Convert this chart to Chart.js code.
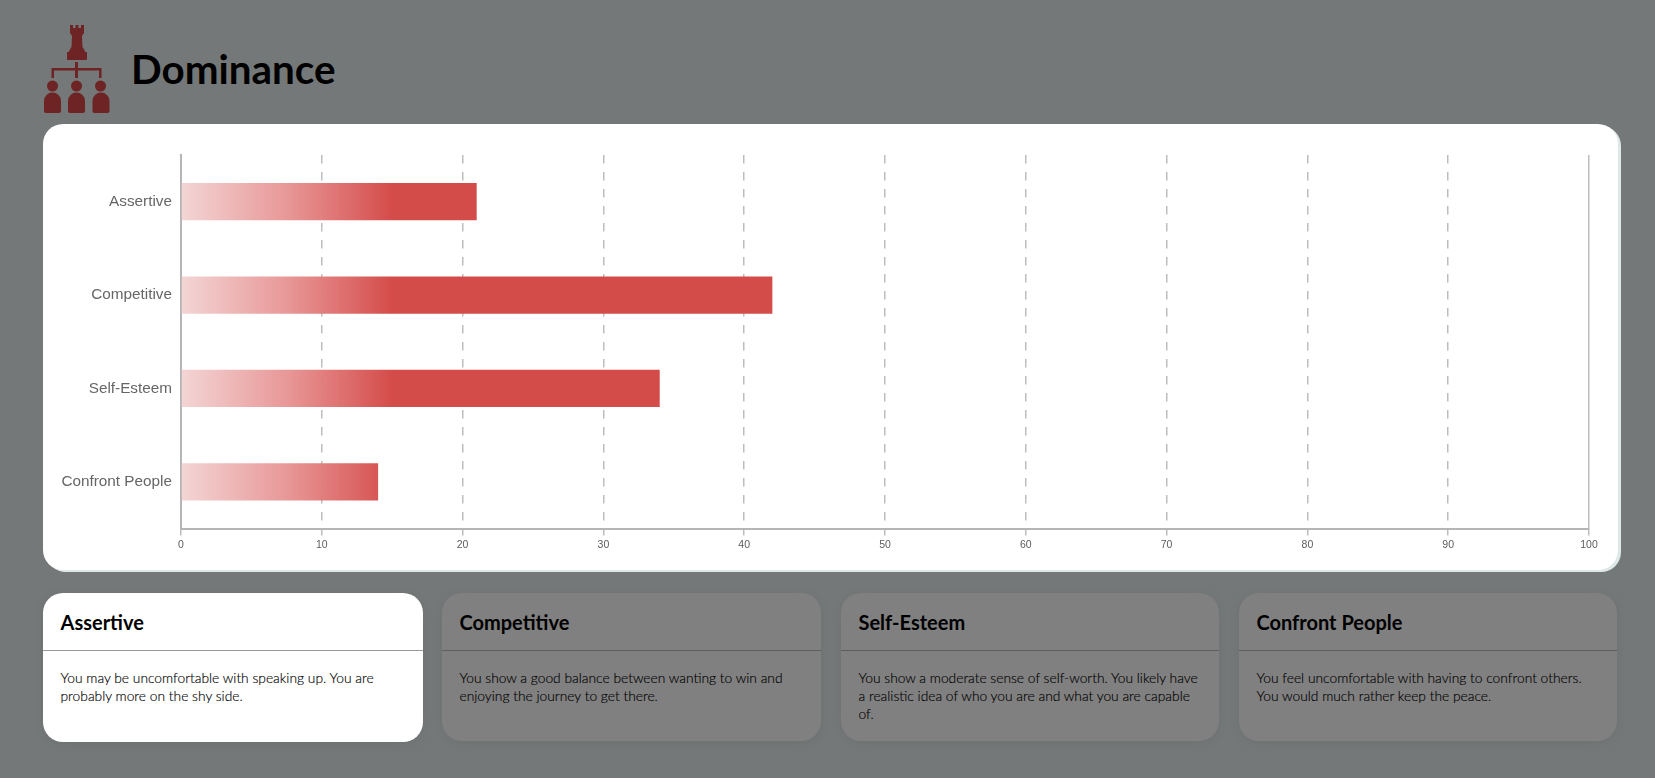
<!DOCTYPE html>
<html>
<head>
<meta charset="utf-8">
<title>Dominance</title>
<script src="https://cdn.jsdelivr.net/npm/chart.js@4"></script>
<style>
    html, body { margin: 0; padding: 0; }
    body { width: 1655px; height: 778px; background: #757878; overflow: hidden; position: relative; font-family: Lato, sans-serif; }
    #logo { position: absolute; left: 0; top: 0; }
    h1 { position: absolute; left: 131px; top: 44px; margin: 0; font-size: 40.4px; line-height: 50px; font-weight: 700; color: #000; }
    #chart-card { position: absolute; left: 43px; top: 124px; width: 1575px; height: 446px; background: #fff; border-radius: 20px; box-shadow: 3px 2px 0 0 #dfe8e8; }
    #chart-card canvas { position: absolute; left: 0; top: 0; }
    .card { position: absolute; top: 593px; height: 148px; border-radius: 20px; background: #808080; box-shadow: 0 2px 12px rgba(0,0,0,.06); }
    .card.active { background: #fff; height: 149px; }
    .card h3 { margin: 0; padding: 1px 17.5px 0; height: 56px; line-height: 57px; font-size: 20px; font-weight: 700; color: #000; border-bottom: 1px solid #5f5f5f; }
    .card.active h3 { border-bottom-color: #999; }
    .card p { margin: 0; padding: 18px 17.5px 0; font-size: 13.8px; line-height: 18px; font-weight: 300; color: #000; -webkit-text-stroke: 0.15px #000; }
</style>
</head>
<body>
<svg id="logo" width="130" height="120" fill="#6e2424">
    <path d="M70 25h3v3h2.500v-3h3v3h2.500v-3h3v8l-2 3 .5 11 2.500 4v1h2v7a1 1 0 0 1-1 1H68a1 1 0 0 1-1-1v-7h2v-1l2.500-4 .5-11-2-3z"/>
    <path d="M75 62h3v6h23.500v10h-2.500v-7.500h-21v7.500h-3v-7.500h-21v7.500h-2.500v-10h23.500z"/>
    <circle cx="52.500" cy="86" r="5.500"/><circle cx="76.500" cy="86" r="5.500"/><circle cx="100.500" cy="86" r="5.500"/>
    <path d="M44 111v-10a8.500 8.500 0 0 1 17 0v10a2 2 0 0 1-2 2H46a2 2 0 0 1-2-2z"/>
    <path d="M68 111v-10a8.500 8.500 0 0 1 17 0v10a2 2 0 0 1-2 2H70a2 2 0 0 1-2-2z"/>
    <path d="M92.500 111v-10a8.500 8.500 0 0 1 17 0v10a2 2 0 0 1-2 2h-13a2 2 0 0 1-2-2z"/>
</svg>
<h1>Dominance</h1>
<div id="chart-card"><canvas id="dominance-chart" width="1578" height="448"></canvas></div>
<div id="cards"></div>

<script>
let categories = ['Assertive', 'Competitive', 'Self-Esteem', 'Confront People'];
let scores = [21, 42, 34, 14];
let axisTicks = [0, 10, 20, 30, 40, 50, 60, 70, 80, 90, 100];
let descriptions = [
    'You may be uncomfortable with speaking up. You are probably more on the shy side.',
    'You show a good balance between wanting to win and enjoying the journey to get there.',
    'You show a moderate sense of self-worth. You likely have a realistic idea of who you are and what you are capable of.',
    'You feel uncomfortable with having to confront others. You would much rather keep the peace.'
];
let cardLefts = [43, 442, 841, 1239];
let cardWidths = [380, 379, 378, 378];

// Description cards under the chart
categories.forEach((name, i) => {
    let card = document.createElement('div');
    card.className = i === 0 ? 'card active' : 'card';
    card.style.left = cardLefts[i] + 'px';
    card.style.width = cardWidths[i] + 'px';
    card.innerHTML = `<h3>${name}</h3><p>${descriptions[i]}</p>`;
    document.getElementById('cards').appendChild(card);
});

// The fade is fixed to the axis, not to each bar, so long bars stay solid past 15
function barGradient(context) {
    let x = context.chart.scales.x;
    let start = x ? x.getPixelForValue(0) : NaN;
    let end = x ? x.getPixelForValue(15) : NaN;
    // scales have no pixels yet on the first pass before layout
    if (!isFinite(start) || !isFinite(end)) return '#d44c4a';
    let g = context.chart.ctx.createLinearGradient(start, 0, end, 0);
    g.addColorStop(0, 'rgba(243,211,211,.95)');
    g.addColorStop(0.5, 'rgba(231,146,146,.95)');
    g.addColorStop(1, 'rgba(212,76,74,1)');
    return g;
}

new Chart(document.getElementById('dominance-chart').getContext('2d'), {
    type: 'bar',
    data: {
        labels: categories,
        datasets: [{
            data: scores,
            backgroundColor: barGradient,
            categoryPercentage: 0.4,
            barPercentage: 1
        }]
    },
    options: {
        indexAxis: 'y',
        responsive: false,
        animation: false,
        layout: { padding: { top: 31, right: 32 } },
        plugins: { legend: { display: false }, tooltip: { enabled: false } },
        scales: {
            x: {
                min: 0,
                max: 100,
                afterBuildTicks: axis => { axis.ticks = axisTicks.map(v => ({ value: v })); },
                afterFit: axis => { axis.height = 43.5; },
                grid: { color: '#bdbdbd', lineWidth: 1.5, tickLength: 7, tickColor: '#bdbdbd' },
                border: {
                    color: '#b5b5b5',
                    width: 2,
                    dash: ctx => (ctx.tick && ctx.tick.value > 0 && ctx.tick.value < 100) ? [8.5, 8.5] : []
                },
                ticks: {
                    color: '#5c5c5c',
                    padding: 3,
                    maxRotation: 0,
                    font: { family: 'Liberation Sans', size: 10.5 }
                }
            },
            y: {
                afterFit: axis => { axis.width = 138; },
                grid: { display: false },
                border: { color: '#b5b5b5', width: 2 },
                ticks: {
                    color: '#666',
                    padding: 1,
                    font: { family: 'Liberation Sans', size: 15.3 }
                }
            }
        }
    }
});
</script>
</body>
</html>
